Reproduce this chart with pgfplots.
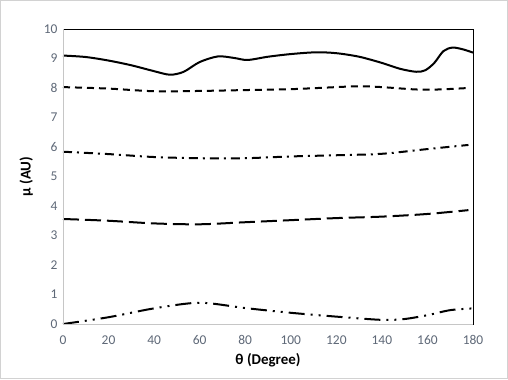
\documentclass[border=0pt]{standalone}
\usepackage{fontspec}
\setmainfont{Carlito}
\usepackage{pgfplots}
\pgfplotsset{compat=1.18}
\definecolor{tickc}{RGB}{95,105,120}
\begin{document}
\begin{tikzpicture}[x=1bp,y=1bp]
\draw[draw=gray!35,line width=1.2bp,fill=white] (0.6,0.6) rectangle (507.4,378.4);
\begin{axis}[
  at={(63bp,55bp)}, anchor=south west,
  scale only axis, width=410bp, height=295bp,
  xmin=0, xmax=180, ymin=0, ymax=10,
  xtick={0,20,...,180}, ytick={0,1,...,10},
  major tick length=0pt,
  axis line style={black, line width=0.8bp},
  tick label style={font=\fontsize{13.5}{15}\selectfont, text=tickc},
  xticklabel style={yshift=-8bp},
  yticklabel style={xshift=-2bp},
  /pgf/number format/assume math mode=true,
  xlabel={\bfseries θ (Degree)},
  ylabel={\bfseries μ (AU)},
  label style={font=\fontsize{15}{17}\selectfont\bfseries},
  xlabel style={yshift=-2bp},
  ylabel style={yshift=4bp},
  clip=false,
  cycle list={{black}},
  every axis plot/.append style={black, line width=2bp, smooth, tension=0.5, mark=none},
]
\addplot+[solid] coordinates {(0,9.10) (10,9.05) (20,8.93) (30,8.77) (40,8.57) (47,8.45) (53,8.55) (60,8.88) (68,9.07) (75,9.02) (81,8.95) (90,9.06) (100,9.15) (111,9.21) (120,9.18) (130,9.06) (140,8.85) (148,8.65) (155,8.55) (159,8.6) (163,8.85) (167,9.25) (171,9.37) (175.6,9.31) (180,9.2)};
\addplot[dash pattern=on 7bp off 5bp] coordinates {(0,8.03) (20,7.98) (40,7.89) (60,7.9) (80,7.93) (100,7.96) (120,8.03) (130,8.06) (140,8.03) (155,7.95) (165,7.95) (178,8.0)};
\addplot[dash pattern=on 9bp off 5bp on 2bp off 5bp] coordinates {(0,5.84) (20,5.76) (40,5.66) (60,5.62) (80,5.62) (100,5.68) (120,5.72) (140,5.77) (160,5.93) (178,6.07)};
\addplot[dash pattern=on 16bp off 6bp] coordinates {(0,3.56) (20,3.5) (40,3.41) (60,3.38) (80,3.45) (100,3.52) (120,3.59) (140,3.64) (160,3.73) (178,3.86)};
\addplot[dash pattern=on 16bp off 6bp on 2bp off 6bp on 2bp off 6bp] coordinates {(0,0.0) (20,0.23) (40,0.53) (60,0.72) (80,0.54) (100,0.38) (120,0.25) (140,0.14) (150,0.17) (160,0.3) (170,0.47) (180,0.53)};
\draw[gray!45, line width=1bp] (rel axis cs:0,0) -- (rel axis cs:0,1);
\draw[gray!45, line width=1bp] (rel axis cs:0,0) -- (rel axis cs:1,0);
\end{axis}
\end{tikzpicture}
\end{document}
